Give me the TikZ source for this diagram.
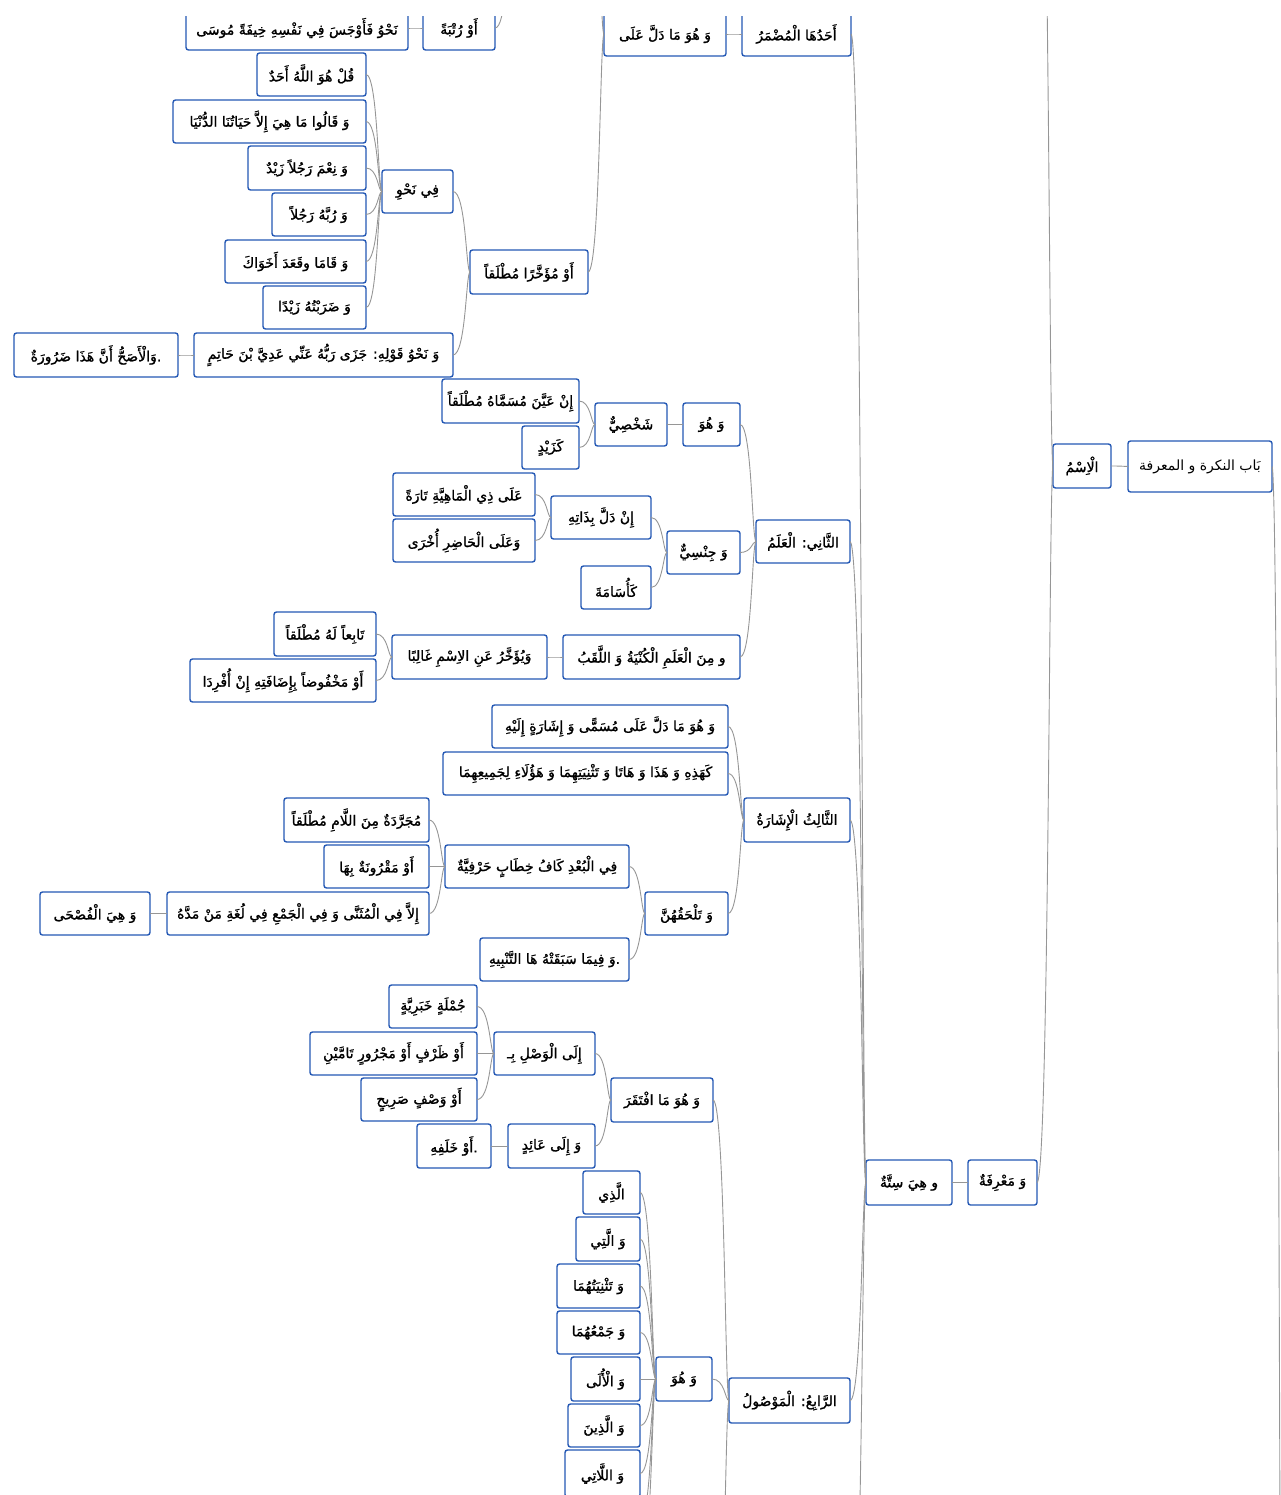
\documentclass[tikz,border=0pt]{standalone}
\usepackage{fontspec}
\TeXXeTstate=1
\newfontfamily\arabicfont[Script=Arabic,FakeBold=1.2]{DejaVu Sans}
\newfontfamily\arabicroot[Script=Arabic]{DejaVu Sans}
\definecolor{boxblue}{RGB}{36,88,180}
\definecolor{linegray}{RGB}{150,150,150}
\newcommand\ar[1]{{\arabicfont\beginR #1\endR}}
\newcommand\arp[1]{{\arabicfont\beginR #1\endR.}}
\tikzset{
  box/.style={draw=boxblue, fill=white, line width=1.4pt, rounded corners=2.5pt,
    inner sep=0pt, outer sep=0pt, font=\fontsize{14}{16}\selectfont, text=black},
  link/.style={draw=linegray, line width=0.9pt}
}
\newcommand\bx[6]{\node[box, minimum width={(#3-#2)*1pt}, minimum height={(#5-#4)*1pt}] (#1) at ({(#2+#3)/2},{(#4+#5)/2}) {#6};}
% child (node) -> parent (node)
\newcommand\conn[2]{\draw[link] (#1.east) .. controls (perpendicular cs: horizontal line through={(#1.east)}, vertical line through={([xshift=-4pt]#2.west)}) and ([xshift=-4pt]#2.west) .. (#2.west);}
% child (coordinate) -> parent (node)
\newcommand\connc[2]{\draw[link] (#1) .. controls (perpendicular cs: horizontal line through={(#1)}, vertical line through={([xshift=-4pt]#2.west)}) and ([xshift=-4pt]#2.west) .. (#2.west);}
% child (node) -> parent (coordinate)
\newcommand\connp[2]{\draw[link] (#1.east) .. controls (perpendicular cs: horizontal line through={(#1.east)}, vertical line through={([xshift=-4pt]#2)}) and ([xshift=-4pt]#2) .. (#2);}
\begin{document}
\begin{tikzpicture}[x=1pt,y=-1pt]
\useasboundingbox (0,0) rectangle (1281,1495);
\begin{scope}
\clip (0,17) rectangle (1281,1495);
% root and first levels
\bx{root}{1128}{1272}{441}{492}{{\arabicroot\beginR بَاب النكرة و المعرفة\endR}}
\bx{ism}{1053}{1111}{444}{488}{\ar{الْاِسْمُ}}
\bx{marifa}{968}{1037}{1160}{1205}{\ar{وَ مَعْرِفَةٌ}}
\bx{sitta}{866}{952}{1160}{1205}{\ar{و هِيَ سِتَّةٌ}}
% first: mudmar
\bx{ahad}{742}{851}{12}{56}{\ar{أَحَدُهَا الْمُضْمَرُ}}
\bx{hwd}{604}{726}{12}{56}{\ar{وَ هُوَ مَا دَلَّ عَلَى}}
\bx{rutba}{423}{495}{6}{50}{\ar{أَوْ رُتْبَةً}}
\bx{nahwa}{186}{408}{6}{50}{\ar{نَحْوُ فَأَوْجَسَ فِي نَفْسِهِ خِيفَةً مُوسَى}}
\bx{muakh}{470}{588}{250}{294}{\ar{أَوْ مُؤَخَّرًا مُطْلَقاً}}
\bx{finahw}{382}{453}{170}{213}{\ar{فِي نَحْوِ}}
\bx{ca}{257}{366}{53}{96}{\ar{قُلْ هُوَ اللَّهُ أَحَدٌ}}
\bx{cb}{173}{366}{100}{143}{\ar{وَ قَالُوا مَا هِيَ إِلاَّ حَيَاتُنَا الدُّنْيَا}}
\bx{cc}{248}{366}{146}{190}{\ar{وَ نِعْمَ رَجُلاً زَيْدٌ}}
\bx{cd}{272}{366}{193}{236}{\ar{وَ رُبَّهُ رَجُلاً}}
\bx{ce}{225}{366}{240}{283}{\ar{وَ قَامَا وقَعَدَ أَخَوَاكَ}}
\bx{cf}{263}{366}{286}{329}{\ar{وَ ضَرَبْتُهُ زَيْدًا}}
\bx{nq}{194}{453}{333}{377}{\ar{وَ نَحْوُ قَوْلِهِ: جَزَى رَبُّهُ عَنِّي عَدِيَّ بْنَ حَاتِمٍ}}
\bx{asah}{14}{178}{333}{377}{\arp{وَالْأَصَحُّ أَنَّ هَذَا ضَرُورَةٌ}}
% second: alam
\bx{alam}{756}{850}{520}{563}{\ar{الثَّانِي: الْعَلَمُ}}
\bx{whua}{683}{740}{403}{446}{\ar{وَ هُوَ}}
\bx{shakhsi}{595}{667}{403}{446}{\ar{شَخْصِيٌّ}}
\bx{ayyana}{442}{579}{379}{423}{\ar{إِنْ عَيَّنَ مُسَمَّاهُ مُطْلَقاً}}
\bx{kazayd}{522}{579}{426}{469}{\ar{كَزَيْدٍ}}
\bx{jinsi}{667}{740}{531}{574}{\ar{وَ جِنْسِيٌّ}}
\bx{dalla}{551}{651}{496}{539}{\ar{إِنْ دَلَّ بِذَاتِهِ}}
\bx{usama}{581}{651}{566}{609}{\ar{كَأُسَامَةَ}}
\bx{mahiya}{393}{535}{473}{516}{\ar{عَلَى ذِي الْمَاهِيَّةِ تَارَةً}}
\bx{hadir}{393}{535}{519}{562}{\ar{وَعَلَى الْحَاضِرِ أُخْرَى}}
\bx{kunya}{563}{740}{635}{679}{\ar{و مِنَ الْعَلَمِ الْكُنْيَةُ وَ اللَّقَبُ}}
\bx{yuakh}{392}{547}{635}{679}{\ar{وَيُؤَخَّرُ عَنِ الاِسْمِ غَالِبًا}}
\bx{tabi}{274}{376}{612}{656}{\ar{تَابِعاً لَهُ مُطْلَقاً}}
\bx{makhfud}{190}{376}{659}{702}{\ar{أَوْ مَخْفُوضاً بِإِضَافَتِهِ إِنْ أُفْرِدَا}}
% third: ishara
\bx{ishara}{744}{850}{798}{842}{\ar{الثَّالِثُ الْإِشَارَةُ}}
\bx{whmd}{492}{728}{705}{748}{\ar{وَ هُوَ مَا دَلَّ عَلَى مُسَمًّى وَ إِشَارَةٍ إِلَيْهِ}}
\bx{kahadhih}{443}{728}{752}{795}{\ar{كَهَذِهِ وَ هَذَا وَ هَاتَا وَ تَثْنِيَتِهِمَا وَ هَؤُلَاءِ لِجَمِيعِهِمَا}}
\bx{talhaq}{645}{728}{892}{935}{\ar{وَ تَلْحَقُهُنَّ}}
\bx{bud}{445}{629}{845}{888}{\ar{فِي الْبُعْدِ كَافُ خِطَابٍ حَرْفِيَّةٌ}}
\bx{tanbih}{480}{629}{938}{981}{\arp{وَ فِيمَا سَبَقَتْهُ هَا التَّنْبِيهِ}}
\bx{mujarrada}{284}{429}{798}{842}{\ar{مُجَرَّدَةٌ مِنَ اللَّامِ مُطْلَقاً}}
\bx{maqruna}{324}{429}{845}{888}{\ar{أَوْ مَقْرُونَةٌ بِهَا}}
\bx{illa}{167}{429}{892}{935}{\ar{إِلاَّ فِي الْمُثَنَّى وَ فِي الْجَمْعِ فِي لُغَةِ مَنْ مَدَّهُ}}
\bx{fusha}{40}{150}{892}{935}{\ar{وَ هِيَ الْفُصْحَى}}
% fourth: mawsul
\bx{mawsul}{729}{850}{1378}{1423}{\ar{الرَّابِعُ: الْمَوْصُولُ}}
\bx{iftaqar}{611}{713}{1078}{1122}{\ar{وَ هُوَ مَا افْتَقَرَ}}
\bx{wasl}{494}{595}{1032}{1075}{\ar{إِلَى الْوَصْلِ بِـ}}
\bx{aid}{508}{595}{1124}{1168}{\ar{وَ إِلَى عَائِدٍ}}
\bx{jumla}{389}{477}{985}{1028}{\ar{جُمْلَةٍ خَبَرِيَّةٍ}}
\bx{zarf}{310}{477}{1032}{1075}{\ar{أَوْ ظَرْفٍ أَوْ مَجْرُورٍ تَامَّيْنِ}}
\bx{wasf}{361}{477}{1078}{1121}{\ar{أَوْ وَصْفٍ صَرِيحٍ}}
\bx{khalaf}{417}{491}{1124}{1168}{\arp{أَوْ خَلَفِهِ}}
\bx{whub}{656}{712}{1357}{1401}{\ar{وَ هُوَ}}
\bx{alladhi}{583}{640}{1171}{1214}{\ar{الَّذِي}}
\bx{allati}{576}{640}{1217}{1261}{\ar{وَ الَّتِي}}
\bx{tathn}{557}{640}{1264}{1308}{\ar{وَ تَثْنِيَتُهُمَا}}
\bx{jam}{557}{640}{1311}{1354}{\ar{وَ جَمْعُهُمَا}}
\bx{ula}{571}{640}{1357}{1401}{\ar{وَ الْأُلَى}}
\bx{alladhina}{568}{640}{1404}{1447}{\ar{وَ الَّذِينَ}}
\bx{allatii}{565}{640}{1450}{1497}{\ar{وَ اللَّاتِي}}
% free ends beyond the visible part
\coordinate (nakira) at (1037,-300);
\coordinate (hwdup) at (588,-150);
\coordinate (rutbapar) at (510,-40);
\coordinate (sittamore) at (850,1700);
\coordinate (mawsulmore) at (713,1700);
\coordinate (whubmorea) at (640,1520);
\coordinate (whubmoreb) at (640,1567);
\coordinate (rootpar) at (1284,2300);
% connectors
\connp{root}{rootpar}
\conn{ism}{root}
\connc{nakira}{ism}
\conn{marifa}{ism}
\conn{sitta}{marifa}
\conn{ahad}{sitta}
\conn{alam}{sitta}
\conn{ishara}{sitta}
\conn{mawsul}{sitta}
\connc{sittamore}{sitta}
\conn{hwd}{ahad}
\connc{hwdup}{hwd}
\conn{muakh}{hwd}
\connp{rutba}{rutbapar}
\conn{nahwa}{rutba}
\conn{finahw}{muakh}
\conn{nq}{muakh}
\foreach \c in {ca,cb,cc,cd,ce,cf}{\conn{\c}{finahw}}
\conn{asah}{nq}
\conn{whua}{alam}
\conn{jinsi}{alam}
\conn{kunya}{alam}
\conn{shakhsi}{whua}
\conn{ayyana}{shakhsi}
\conn{kazayd}{shakhsi}
\conn{dalla}{jinsi}
\conn{usama}{jinsi}
\conn{mahiya}{dalla}
\conn{hadir}{dalla}
\conn{yuakh}{kunya}
\conn{tabi}{yuakh}
\conn{makhfud}{yuakh}
\conn{whmd}{ishara}
\conn{kahadhih}{ishara}
\conn{talhaq}{ishara}
\conn{bud}{talhaq}
\conn{tanbih}{talhaq}
\conn{mujarrada}{bud}
\conn{maqruna}{bud}
\conn{illa}{bud}
\conn{fusha}{illa}
\conn{iftaqar}{mawsul}
\conn{whub}{mawsul}
\connc{mawsulmore}{mawsul}
\conn{wasl}{iftaqar}
\conn{aid}{iftaqar}
\conn{jumla}{wasl}
\conn{zarf}{wasl}
\conn{wasf}{wasl}
\conn{khalaf}{aid}
\foreach \c in {alladhi,allati,tathn,jam,ula,alladhina,allatii}{\conn{\c}{whub}}
\connc{whubmorea}{whub}
\connc{whubmoreb}{whub}
\end{scope}
\end{tikzpicture}
\end{document}
